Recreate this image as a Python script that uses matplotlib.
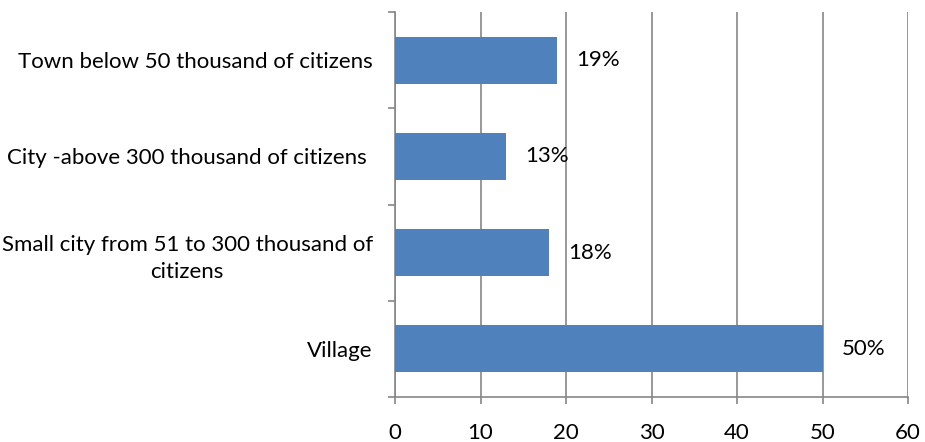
import matplotlib

matplotlib.use("Agg")
import matplotlib.pyplot as plt  # noqa: E402
from matplotlib.ticker import FixedLocator  # noqa: E402

# Datos (de abajo hacia arriba)
categorias = [
    "Village",
    "Small city from 51 to 300 thousand of\ncitizens",
    "City -above 300 thousand of citizens ",
    "Town below 50 thousand of citizens",
]
valores = [50, 18, 13, 19]
etiquetas = ["50%", "18%", "13%", "19%"]
ticks_x = [0, 10, 20, 30, 40, 50, 60]

_AZUL = "#4f81bd"
_GRIS = "#868686"
_FS = 16

plt.rcParams["font.family"] = ["Lato", "DejaVu Sans"]

fig = plt.figure(figsize=(9.25, 4.42), dpi=100)
ax = fig.add_axes([395 / 925, 1 - 397 / 442, 513 / 925, 385 / 442])

ypos = list(range(len(categorias)))
ax.barh(ypos, valores, height=0.49, color=_AZUL, zorder=3)
for y, v, t in zip(ypos, valores, etiquetas):
    ax.annotate(t, (v, y), xytext=(19, 0), textcoords="offset pixels",
                ha="left", va="center", fontsize=_FS, color="#000000")

ax.set_xlim(0, 60)
ax.set_ylim(-0.5, len(categorias) - 0.5)
ax.set_xticks(ticks_x)
ax.set_xticklabels([str(t) for t in ticks_x], fontsize=_FS)
ax.set_yticks(ypos)
ax.set_yticklabels(categorias, fontsize=_FS, ha="right", multialignment="center",
                   linespacing=1.45)
ax.yaxis.set_minor_locator(FixedLocator([i - 0.5 for i in range(len(categorias) + 1)]))

ax.grid(axis="x", color=_GRIS, linewidth=1.2, zorder=0)
for s in ("top", "right"):
    ax.spines[s].set_visible(False)
for s in ("left", "bottom"):
    ax.spines[s].set_color(_GRIS)
    ax.spines[s].set_linewidth(1.2)

ax.tick_params(axis="y", which="major", length=0, pad=16)
ax.tick_params(axis="y", which="minor", length=5, color=_GRIS, width=1.2)
ax.tick_params(axis="x", length=5, color=_GRIS, width=1.2, pad=14)

fig.savefig("out.png", dpi=100)
